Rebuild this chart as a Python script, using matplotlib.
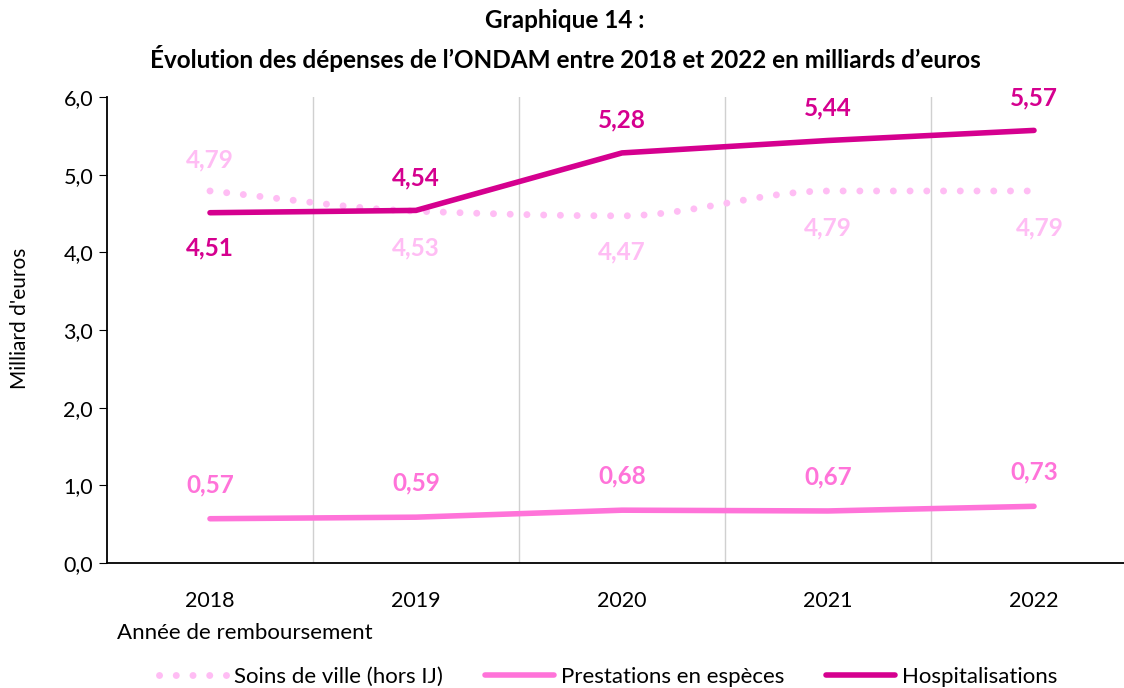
import numpy as np
import matplotlib.pyplot as plt

plt.rcParams['font.family'] = ['Lato', 'DejaVu Sans']

# data
years = ["2018", "2019", "2020", "2021", "2022"]
soins_ville = [4.79, 4.53, 4.47, 4.79, 4.79]
prestations = [0.57, 0.59, 0.68, 0.67, 0.73]
hospitalisations = [4.51, 4.54, 5.28, 5.44, 5.57]

c_soins = "#FFBDF4"
c_prest = "#FF73D9"
c_hosp = "#D5008F"


def smooth(y, n=40):
    # monotone cubic curve through the points (smoothed line look)
    y = np.asarray(y, dtype=float)
    d = np.diff(y)
    m = np.zeros_like(y)
    m[0], m[-1] = d[0], d[-1]
    for i in range(1, len(y) - 1):
        if d[i - 1] * d[i] > 0:
            m[i] = 2 / (1 / d[i - 1] + 1 / d[i])
    if d[0] == 0:
        m[0] = 0
    if d[-1] == 0:
        m[-1] = 0
    xs, ys = [], []
    for i in range(len(y) - 1):
        t = np.linspace(0, 1, n, endpoint=False)
        h00 = 2 * t**3 - 3 * t**2 + 1
        h10 = t**3 - 2 * t**2 + t
        h01 = -2 * t**3 + 3 * t**2
        h11 = t**3 - t**2
        xs.append(i + t)
        ys.append(h00 * y[i] + h10 * m[i] + h01 * y[i + 1] + h11 * m[i + 1])
    xs.append([len(y) - 1])
    ys.append([y[-1]])
    return np.concatenate(xs), np.concatenate(ys)


fig = plt.figure(figsize=(11.24, 6.88), dpi=100)
ax = fig.add_axes([107 / 1124, 1 - 563 / 688, 1030 / 1124, 466 / 688])

x = np.arange(len(years))
xs, ys = smooth(soins_ville)
ax.plot(xs, ys, color=c_soins, lw=5, linestyle=(0, (0.01, 2.4)),
        dash_capstyle="round", label="Soins de ville (hors IJ)", zorder=3)
ax.plot(x, prestations, color=c_prest, lw=4, solid_capstyle="round",
        label="Prestations en espèces", zorder=3)
ax.plot(x, hospitalisations, color=c_hosp, lw=4, solid_capstyle="round",
        label="Hospitalisations", zorder=4)

fmt = lambda v: f"{v:.2f}".replace(".", ",")
lab_kw = dict(ha="center", va="center", fontsize=17.5, fontweight="bold")

# soins de ville labels: first above, the rest below
for i, v in enumerate(soins_ville):
    dy = 0.40 if i == 0 else -0.47
    dx = 0.03 if i == 4 else 0
    ax.text(i + dx, v + dy, fmt(v), color=c_soins, **lab_kw)
for i, v in enumerate(hospitalisations):
    dy = -0.45 if i == 0 else 0.42
    ax.text(i, v + dy, fmt(v), color=c_hosp, **lab_kw)
for i, v in enumerate(prestations):
    ax.text(i, v + 0.44, fmt(v), color=c_prest, **lab_kw)

ax.set_xlim(-0.5, 4.5)
ax.set_ylim(0, 6)
ax.set_yticks(np.arange(0, 6.1, 1))
ax.set_yticklabels([f"{v:.1f}".replace(".", ",") for v in np.arange(0, 6.1, 1)])
ax.set_xticks(x)
ax.set_xticklabels(years)
ax.tick_params(axis="x", length=0, pad=20, labelsize=15.5)
ax.tick_params(axis="y", length=6, direction="out", labelsize=15.5, pad=4)
for xv in np.arange(0.5, 4, 1):
    ax.axvline(xv, color="#D0D0D0", lw=1, zorder=1)
for s in ["top", "right"]:
    ax.spines[s].set_visible(False)
ax.spines["left"].set_linewidth(1.3)
ax.spines["bottom"].set_linewidth(1.3)

fig.text(20 / 1124, 1 - 318 / 688, "Milliard d'euros", fontsize=15,
         rotation=90, ha="center", va="center")
fig.text(117 / 1124, 1 - 633 / 688, "Année de remboursement", fontsize=16,
         ha="left", va="center")

fig.text(565 / 1124, 1 - 20 / 688, "Graphique 14 :", fontsize=17.5,
         fontweight="bold", ha="center", va="center")
fig.text(565 / 1124, 1 - 58 / 688,
         "Évolution des dépenses de l’ONDAM entre 2018 et 2022 en milliards d’euros",
         fontsize=17.5, fontweight="bold", ha="center", va="center")

fig.legend(loc="center", bbox_to_anchor=(608 / 1124, 1 - 677 / 688), ncol=3,
           frameon=False, fontsize=16, handlelength=3.1, columnspacing=1.9,
           handletextpad=0.3)

fig.savefig("out.png", dpi=100)
